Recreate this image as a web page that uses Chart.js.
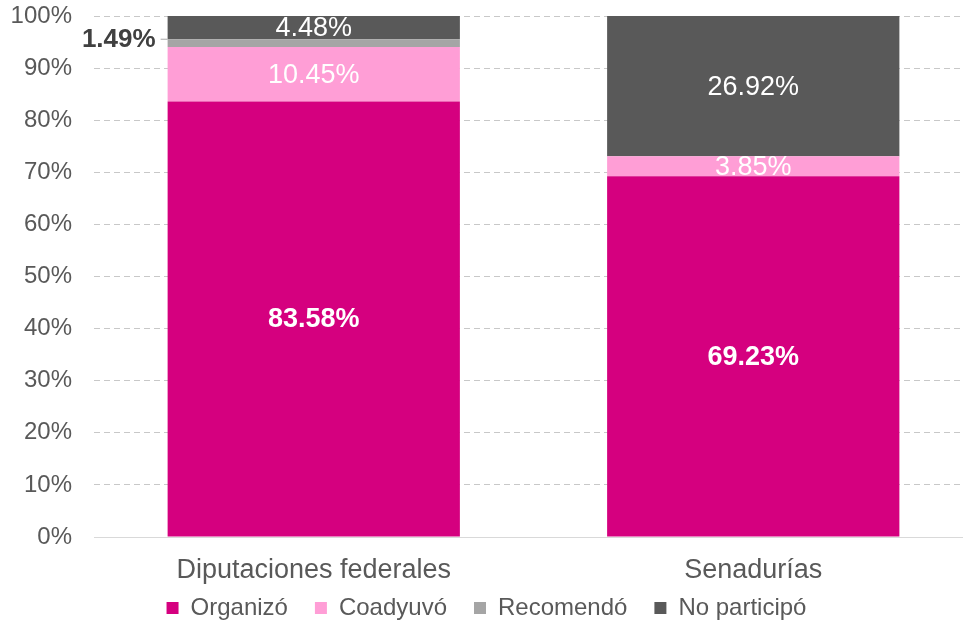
<!DOCTYPE html>
<html>
<head>
<meta charset="utf-8">
<script src="https://cdn.jsdelivr.net/npm/chart.js@4/dist/chart.umd.min.js"></script>
<style>
  html, body { margin: 0; padding: 0; background: #ffffff; overflow: hidden; }
  #wrap { width: 973px; height: 630px; position: relative; }
</style>
</head>
<body>
<div id="wrap"><canvas id="chart"></canvas></div>
<script>
const categories = ["Diputaciones federales", "Senadurías"];
const seriesNames = ["Organizó", "Coadyuvó", "Recomendó", "No participó"];
const organizo = [83.58, 69.23];
const coadyuvo = [10.45, 3.85];
const recomendo = [1.49, 0];
const noParticipo = [4.48, 26.92];

const colors = {
  organizo: "#D5007F",
  coadyuvo: "#FF9ED6",
  recomendo: "#A5A5A5",
  noParticipo: "#595959",
  text: "#595959",
  grid: "#C8C8C8",
};

const FONT = "'Liberation Sans', Arial, sans-serif";

// etiquetas de valor dentro de cada segmento (las pequeñas van fuera, con línea guía)
const segmentLabels = {
  id: "segmentLabels",
  afterDatasetsDraw(chart) {
    const ctx = chart.ctx;
    ctx.save();
    chart.data.datasets.forEach((ds, di) => {
      const meta = chart.getDatasetMeta(di);
      meta.data.forEach((bar, i) => {
        const v = ds.data[i];
        if (!v) return;
        const txt = v.toFixed(2) + "%";
        const cy = (bar.y + bar.base) / 2;
        if (v < 2) {
          const left = bar.x - bar.width / 2;
          ctx.strokeStyle = "#A5A5A5";
          ctx.lineWidth = 1;
          ctx.beginPath();
          ctx.moveTo(left - 7, cy - 4);
          ctx.lineTo(left, cy - 4);
          ctx.stroke();
          ctx.font = "bold 26px " + FONT;
          ctx.fillStyle = "#404040";
          ctx.textAlign = "right";
          ctx.textBaseline = "middle";
          ctx.fillText(txt, left - 12, cy - 3);
          return;
        }
        ctx.font = (di === 0 ? "bold " : "") + "27px " + FONT;
        ctx.fillStyle = "#ffffff";
        ctx.textAlign = "center";
        ctx.textBaseline = "middle";
        ctx.fillText(txt, bar.x, cy + 1);
      });
    });
    ctx.restore();
  },
};

const barDefaults = {
  categoryPercentage: 1,
  barPercentage: 0.665,
  borderWidth: 0,
};

new Chart(document.getElementById("chart"), {
  type: "bar",
  data: {
    labels: categories,
    datasets: [
      { label: seriesNames[0], data: organizo, backgroundColor: colors.organizo, ...barDefaults },
      { label: seriesNames[1], data: coadyuvo, backgroundColor: colors.coadyuvo, ...barDefaults },
      { label: seriesNames[2], data: recomendo, backgroundColor: colors.recomendo, ...barDefaults },
      { label: seriesNames[3], data: noParticipo, backgroundColor: colors.noParticipo, ...barDefaults },
    ],
  },
  options: {
    responsive: true,
    maintainAspectRatio: false,
    animation: false,
    layout: { padding: { top: 16, right: 0, left: 0, bottom: 0 } },
    plugins: {
      legend: {
        position: "bottom",
        labels: {
          color: colors.text,
          font: { family: FONT, size: 24 },
          boxWidth: 12,
          boxHeight: 12,
          padding: 27,
        },
      },
      tooltip: { enabled: false },
    },
    scales: {
      x: {
        stacked: true,
        // eje más bajo que sus etiquetas; se quita el recorte para que se vean enteras
        afterFit(scale) {
          scale.height = 32;
          scale._computeLabelArea = () => undefined;
        },
        grid: { display: false, drawTicks: false },
        border: { color: "#D9D9D9", width: 1 },
        ticks: { color: colors.text, font: { family: FONT, size: 27 }, padding: 17 },
      },
      y: {
        stacked: true,
        min: 0,
        max: 100,
        afterFit(scale) {
          scale.width = 94;
          scale.paddingTop = 0;
          scale.paddingBottom = 0;
        },
        border: { display: false, dash: [6, 4] },
        grid: {
          drawTicks: false,
          color: (c) => (c.tick.value === 0 ? "#D9D9D9" : colors.grid),
        },
        ticks: {
          stepSize: 10,
          padding: 22,
          color: colors.text,
          font: { family: FONT, size: 24 },
          callback: (v) => v + "%",
        },
      },
    },
  },
  plugins: [segmentLabels],
});
</script>
</body>
</html>
